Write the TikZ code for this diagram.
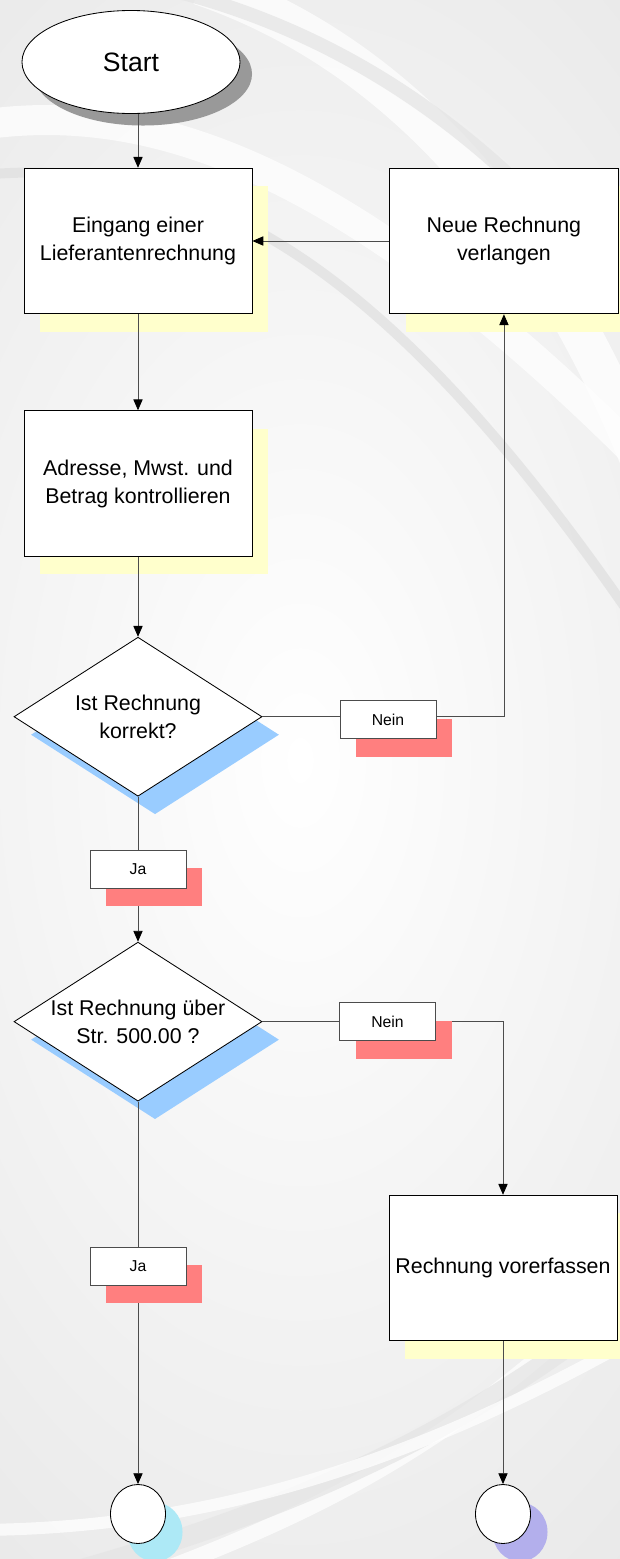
\documentclass[tikz,border=0pt]{standalone}
\usepackage{fontspec}
\setmainfont{Liberation Sans}
\usetikzlibrary{arrows.meta,positioning,shapes.geometric,shadows}
\definecolor{shyellow}{HTML}{FFFFCC}
\definecolor{shblue}{HTML}{99CCFF}
\definecolor{shred}{HTML}{FF7F7F}
\definecolor{shcyan}{HTML}{ADE9F6}
\definecolor{shviolet}{HTML}{B3AFEC}
\definecolor{bggray}{HTML}{E2E2E2}

\begin{document}
\begin{tikzpicture}[x=0.025cm, y=-0.025cm,
  box/.style={draw, fill=white, line width=0.6pt, minimum width=5.7cm, minimum height=3.64cm, align=center, font=\fontsize{15.2}{19.9}\selectfont, general shadow={fill=shyellow, shadow xshift=0.4cm, shadow yshift=-0.45cm}},
  decision/.style={diamond, draw, fill=white, line width=0.6pt, shape aspect=1.56, inner sep=0pt, minimum width=6.2cm, minimum height=3.975cm, align=center, font=\fontsize{15.2}{19.9}\selectfont, general shadow={fill=shblue, shadow xshift=0.425cm, shadow yshift=-0.45cm}},
  lbl/.style={draw, fill=white, line width=0.6pt, minimum width=2.4cm, minimum height=0.95cm, font=\fontsize{11.2}{13}\selectfont, general shadow={fill=shred, shadow xshift=0.4cm, shadow yshift=-0.45cm}},
  term/.style={ellipse, draw, fill=white, line width=0.6pt, minimum width=5.45cm, minimum height=2.575cm, font=\fontsize{18.9}{22}\selectfont, general shadow={fill=black!40, shadow xshift=0.3cm, shadow yshift=-0.3cm}},
  conn/.style={ellipse, draw, fill=white, line width=0.6pt, minimum width=1.375cm, minimum height=1.475cm, inner sep=0pt, general shadow={fill=#1, shadow xshift=0.425cm, shadow yshift=-0.45cm}},
  line/.style={draw=black!70, line width=0.6pt},
  arr/.style={line, -{Triangle[length=2.7mm, width=2.3mm, color=black]}},
  swoosh/.style={draw=white, opacity=0.75}
]
\useasboundingbox (0,0) rectangle (619,1559);
\fill[bggray] (0,0) rectangle (619,1559);
\fill[inner color=white, outer color=bggray] (300,760) ellipse (760 and 1300);
\draw[swoosh, line width=0.75cm] (-20,125) .. controls (150,100) and (360,160) .. (700,520);
\draw[swoosh, draw=black!12, line width=0.25cm] (-20,175) .. controls (200,155) and (400,250) .. (700,720);
\draw[swoosh, line width=1cm] (200,-15) .. controls (420,60) and (600,270) .. (700,640);
\draw[swoosh, draw=black!10, line width=0.35cm] (150,-15) .. controls (400,40) and (580,210) .. (700,420);
\draw[swoosh, line width=0.4cm] (150,1575) .. controls (350,1500) and (500,1420) .. (700,1200);
\draw[swoosh, draw=black!10, line width=0.5cm] (60,1575) .. controls (350,1495) and (520,1400) .. (700,1240);
\draw[swoosh, line width=0.3cm] (-20,1530) .. controls (200,1528) and (420,1470) .. (700,1300);

\node[term] (start) at (131,62) {Start};
\node[box] (eing) at (138,241) {Eingang einer\\Lieferantenrechnung};
\node[box, right=3.425cm of eing] (neu) {Neue Rechnung\\verlangen};
\node[box, below=2.4cm of eing] (kontr) {Adresse, Mwst. und\\Betrag kontrollieren};
\node[decision, below=2cm of kontr] (korrekt) {Ist Rechnung\\korrekt?};
\node[decision, below=3.625cm of korrekt] (betrag) {Ist Rechnung über\\Str. 500.00 ?};
\node[box] (vorerf) at (503,1268) {Rechnung vorerfassen};
\node[conn=shcyan] (endja) at (138,1514) {};
\node[conn=shviolet] (endnein) at (503,1514) {};

\draw[arr] (start.south -| eing.north) -- (eing.north);
\draw[arr] (eing) -- (kontr);
\draw[arr] (kontr) -- (korrekt);
\draw[arr] (neu) -- (eing);
\draw[arr] (korrekt.east) -| node[lbl, pos=0.26, yshift=-2pt]{Nein} (neu.south);
\draw[arr] (korrekt) -- node[lbl]{Ja} (betrag);
\draw[arr] (betrag.east) -| node[lbl, pos=0.26]{Nein} (vorerf.north);
\draw[arr] (betrag) -- node[lbl, pos=0.43]{Ja} (endja);
\draw[arr] (vorerf) -- (endnein);
\end{tikzpicture}
\end{document}
